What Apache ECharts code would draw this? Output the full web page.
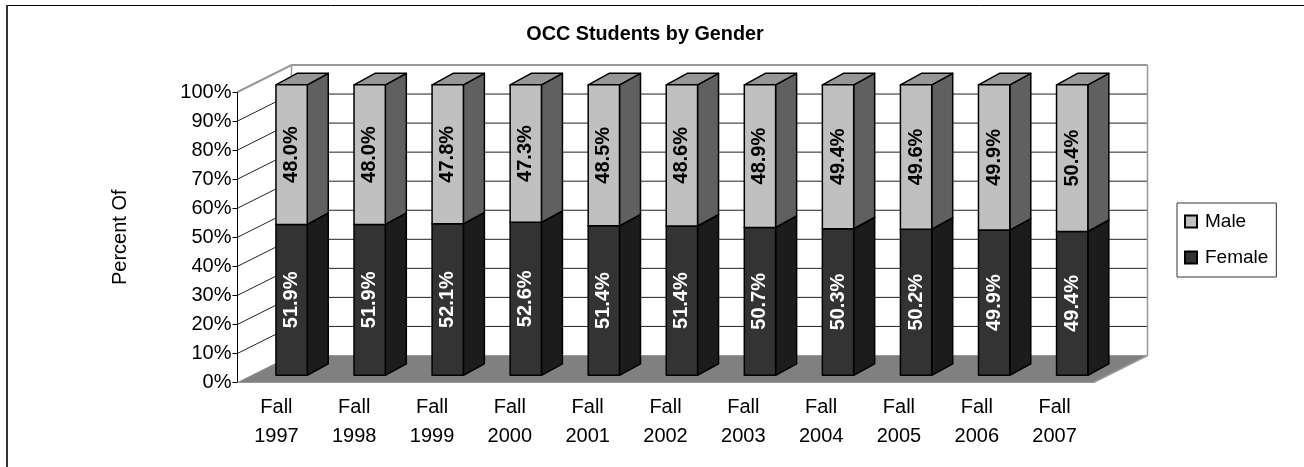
<!DOCTYPE html>
<html>
<head>
<meta charset="utf-8">
<style>
  html, body { margin: 0; padding: 0; background: #fff; }
  #chart { width: 1304px; height: 467px; }
</style>
<script src="https://cdn.jsdelivr.net/npm/echarts@6/dist/echarts.min.js"></script>
</head>
<body>
<div id="chart"></div>
<script>
var categories = ['Fall\n1997', 'Fall\n1998', 'Fall\n1999', 'Fall\n2000', 'Fall\n2001', 'Fall\n2002', 'Fall\n2003', 'Fall\n2004', 'Fall\n2005', 'Fall\n2006', 'Fall\n2007'];
var female = [51.9, 51.9, 52.1, 52.6, 51.4, 51.4, 50.7, 50.3, 50.2, 49.9, 49.4];
var male = [48.0, 48.0, 47.8, 47.3, 48.5, 48.6, 48.9, 49.4, 49.6, 49.9, 50.4];
var yTicks = [0, 10, 20, 30, 40, 50, 60, 70, 80, 90, 100];

var FONT = '"Liberation Sans", Arial, sans-serif';
// oblique offset of the back wall
var WALL_DX = 54, WALL_DY = 27;
// bar front face is pushed back into the depth, the side runs on from there
var BAR_DX = 15.2, BAR_DRIFT = 0.24, BAR_DY = 7.2, SIDE_DX = 21, SIDE_DY = 11.5;
var BAR_W = 31.3;

function wallItem(params, api)
{
  var tick = api.value(0);
  var cs = params.coordSys;
  var left = cs.x, right = cs.x + cs.width;
  var y = api.coord([0, tick])[1];
  var children = [];
  if(tick === 0)
  {
    children.push({
      type: 'polygon',
      shape: { points: [[left, y], [left + WALL_DX, y - WALL_DY], [right + WALL_DX, y - WALL_DY], [right, y]] },
      style: { fill: '#808080', stroke: '#999999', lineWidth: 1 }
    });
  }
  else
  {
    children.push({
      type: 'polyline',
      shape: { points: [[left, y], [left + WALL_DX, y - WALL_DY], [right + WALL_DX, y - WALL_DY]] },
      style: { fill: 'none', stroke: tick === 100 ? '#999999' : '#222222', lineWidth: tick === 100 ? 2 : 1 }
    });
  }
  if(tick === 100)
  {
    var bottom = api.coord([0, 0])[1];
    children.push({
      type: 'polyline',
      shape: { points: [[left + WALL_DX, y - WALL_DY], [left + WALL_DX, bottom - WALL_DY]] },
      style: { fill: 'none', stroke: '#999999', lineWidth: 1.5 }
    });
    children.push({
      type: 'polyline',
      shape: { points: [[right + WALL_DX, y - WALL_DY], [right + WALL_DX, bottom - WALL_DY], [right, bottom]] },
      style: { fill: 'none', stroke: '#999999', lineWidth: 1.5 }
    });
  }
  return { type: 'group', children: children };
}

function barItem(colors, textColor, getBase)
{
  return function(params, api)
  {
    var i = params.dataIndex;
    var total = female[i] + male[i];
    var base = getBase(i) / total * 100;
    var top = base + api.value(1) / total * 100;
    var cx = api.coord([i, 0])[0] + BAR_DX + BAR_DRIFT * i;
    var y0 = api.coord([i, base])[1] - BAR_DY;
    var y1 = api.coord([i, top])[1] - BAR_DY;
    var x0 = cx - BAR_W / 2, x1 = cx + BAR_W / 2;
    var edge = { stroke: '#000000', lineWidth: 1.5, lineJoin: 'round' };
    return {
      type: 'group',
      children: [{
        type: 'polygon',
        shape: { points: [[x1, y0], [x1 + SIDE_DX, y0 - SIDE_DY], [x1 + SIDE_DX, y1 - SIDE_DY], [x1, y1]] },
        style: Object.assign({ fill: colors.side }, edge)
      }, {
        type: 'polygon',
        shape: { points: [[x0, y1], [x1, y1], [x1 + SIDE_DX, y1 - SIDE_DY], [x0 + SIDE_DX, y1 - SIDE_DY]] },
        style: Object.assign({ fill: colors.top }, edge)
      }, {
        type: 'rect',
        shape: { x: x0, y: y1, width: BAR_W, height: y0 - y1 },
        style: Object.assign({ fill: colors.front }, edge)
      }, {
        type: 'text',
        x: cx,
        y: (y0 + y1) / 2,
        rotation: Math.PI / 2,
        style: {
          text: api.value(1).toFixed(1) + '%',
          x: 0,
          y: 0,
          align: 'center',
          verticalAlign: 'middle',
          fill: textColor,
          font: 'bold 20px ' + FONT
        }
      }]
    };
  };
}

var chart = echarts.init(document.getElementById('chart'), null, { renderer: 'canvas' });

chart.setOption({
  animation: false,
  backgroundColor: '#ffffff',
  title: {
    text: 'OCC Students by Gender',
    left: 640,
    top: 20,
    textAlign: 'center',
    textStyle: { fontFamily: FONT, fontSize: 19.8, fontWeight: 'bold', color: '#000000' }
  },
  legend: {
    orient: 'vertical',
    left: 1177,
    top: 203,
    data: ['Male', 'Female'],
    icon: 'rect',
    itemWidth: 12,
    itemHeight: 12,
    itemGap: 17,
    padding: [9, 8, 10, 7],
    borderColor: '#333333',
    borderWidth: 1,
    selectedMode: false,
    textStyle: { fontFamily: FONT, fontSize: 19, color: '#000000', padding: [0, 0, 3, 3] }
  },
  grid: { left: 237.5, top: 92, width: 856, height: 290.5 },
  xAxis: {
    type: 'category',
    data: categories,
    boundaryGap: true,
    axisLine: { lineStyle: { color: '#000000', width: 1 } },
    axisTick: { alignWithLabel: false, length: 5, lineStyle: { color: '#000000' } },
    axisLabel: { fontFamily: FONT, fontSize: 20, color: '#000000', lineHeight: 29, margin: 10, interval: 0 }
  },
  yAxis: {
    type: 'value',
    min: 0,
    max: 100,
    interval: 10,
    name: 'Percent Of',
    nameLocation: 'middle',
    nameRotate: 90,
    nameGap: 107,
    nameTextStyle: { fontFamily: FONT, fontSize: 20, color: '#000000' },
    splitLine: { show: false },
    axisLine: { show: true, lineStyle: { color: '#000000', width: 1 } },
    axisTick: { show: true, length: 5, lineStyle: { color: '#000000' } },
    axisLabel: { fontFamily: FONT, fontSize: 20, color: '#000000', margin: 6, formatter: '{value}%' }
  },
  graphic: [{
    type: 'line',
    shape: { x1: 6, y1: 5.5, x2: 1304, y2: 5.5 },
    style: { stroke: '#000000', lineWidth: 1 },
    silent: true
  }, {
    type: 'line',
    shape: { x1: 7, y1: 5, x2: 7, y2: 467 },
    style: { stroke: '#333333', lineWidth: 2 },
    silent: true
  }],
  series: [{
    type: 'custom',
    name: 'walls',
    silent: true,
    z: 1,
    encode: { y: 0 },
    data: yTicks.map(function(t){ return [t]; }),
    renderItem: wallItem
  }, {
    type: 'custom',
    name: 'Female',
    z: 3,
    itemStyle: { color: '#333333', borderColor: '#000000', borderWidth: 1.5 },
    encode: { x: 0, y: 1 },
    data: female.map(function(v, i){ return [i, v]; }),
    renderItem: barItem({ front: '#333333', side: '#1c1c1c', top: '#1c1c1c' }, '#ffffff', function(){ return 0; })
  }, {
    type: 'custom',
    name: 'Male',
    z: 4,
    itemStyle: { color: '#c0c0c0', borderColor: '#000000', borderWidth: 1.5 },
    encode: { x: 0, y: 1 },
    data: male.map(function(v, i){ return [i, v]; }),
    renderItem: barItem({ front: '#c0c0c0', side: '#606060', top: '#969696' }, '#000000', function(i){ return female[i]; })
  }]
});

window.addEventListener('resize', function(){ chart.resize(); });
</script>
</body>
</html>
